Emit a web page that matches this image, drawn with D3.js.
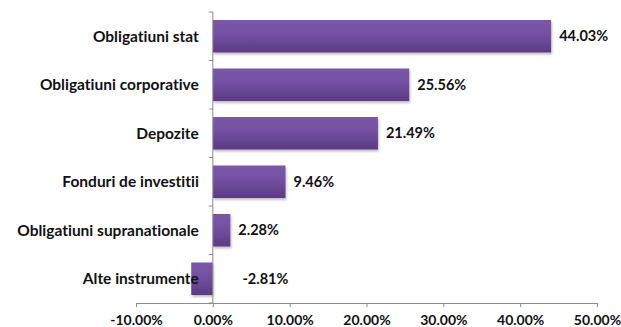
<!DOCTYPE html>
<html>
<head>
<meta charset="utf-8">
<script src="https://d3js.org/d3.v7.min.js"></script>
<style>
  body { margin: 0; background: #fff; }
  svg { display: block; }
  text { font-family: Lato, "Open Sans", sans-serif; font-weight: bold; fill: #111;
         font-variant-ligatures: none; }
</style>
</head>
<body>
<div id="chart"></div>
<script>
// Categories, top to bottom
const categories = [
  "Obligatiuni stat",
  "Obligatiuni corporative",
  "Depozite",
  "Fonduri de investitii",
  "Obligatiuni supranationale",
  "Alte instrumente"
];
// Share in percent
const values = [44.03, 25.56, 21.49, 9.46, 2.28, -2.81];
const xTicks = [-10, 0, 10, 20, 30, 40, 50];

const width = 621, height = 327;
const margin = { top: 12, right: 24, bottom: 24, left: 136 };

const svg = d3.select("#chart").append("svg")
  .attr("width", width)
  .attr("height", height);

// Gradient + umbra pentru bare
const defs = svg.append("defs");
const grad = defs.append("linearGradient")
  .attr("id", "barGrad")
  .attr("x1", 0).attr("y1", 0).attr("x2", 0).attr("y2", 1);
grad.append("stop").attr("offset", "0%").attr("stop-color", "#7b56aa");
grad.append("stop").attr("offset", "45%").attr("stop-color", "#7350a0");
grad.append("stop").attr("offset", "100%").attr("stop-color", "#5a3a84");

const shadow = defs.append("filter").attr("id", "shadow")
  .attr("x", "-10%").attr("y", "-10%").attr("width", "130%").attr("height", "140%");
shadow.append("feDropShadow")
  .attr("dx", 1).attr("dy", 2).attr("stdDeviation", 1.2)
  .attr("flood-color", "#000").attr("flood-opacity", 0.25);

const x = d3.scaleLinear()
  .domain([-10, 50])
  .range([margin.left, width - margin.right]);

const y = d3.scaleBand()
  .domain(categories)
  .range([margin.top, height - margin.bottom])
  .paddingInner(0.33)
  .paddingOuter(0.165);

const fmt = d => d.toFixed(2) + "%";

// Bare
svg.append("g").selectAll("rect")
  .data(values)
  .enter().append("rect")
  .attr("x", d => x(Math.min(0, d)))
  .attr("y", (d, i) => y(categories[i]))
  .attr("width", d => Math.abs(x(d) - x(0)))
  .attr("height", y.bandwidth())
  .attr("fill", "url(#barGrad)")
  .attr("filter", "url(#shadow)");

// Axa X
const xAxis = svg.append("g")
  .attr("transform", `translate(0,${height - margin.bottom})`)
  .call(d3.axisBottom(x).tickValues(xTicks).tickSize(4).tickFormat(fmt));
xAxis.select(".domain").attr("stroke", "#8c8c8c");
xAxis.selectAll(".tick line").attr("stroke", "#8c8c8c").attr("y2", 4);
xAxis.selectAll("text")
  .attr("y", 12)
  .style("font-size", "14px");

// Axa Y (la 0)
const yAxis = svg.append("g")
  .attr("transform", `translate(${x(0)},0)`);
yAxis.append("line")
  .attr("x1", 0).attr("x2", 0)
  .attr("y1", margin.top).attr("y2", height - margin.bottom)
  .attr("stroke", "#8c8c8c");
const step = y.step();
yAxis.selectAll(".ytick")
  .data(d3.range(categories.length + 1))
  .enter().append("line")
  .attr("x1", -4).attr("x2", 0)
  .attr("y1", i => margin.top + i * step)
  .attr("y2", i => margin.top + i * step)
  .attr("stroke", "#8c8c8c");

// Etichete categorii
svg.append("g").selectAll("text")
  .data(categories)
  .enter().append("text")
  .attr("x", x(0) - 14)
  .attr("y", d => y(d) + y.bandwidth() / 2)
  .attr("dy", "0.35em")
  .attr("text-anchor", "end")
  .style("font-size", "15.5px")
  .text(d => d);

// Etichete valori
svg.append("g").selectAll("text")
  .data(values)
  .enter().append("text")
  .attr("x", d => x(Math.abs(d)) + 8)
  .attr("y", (d, i) => y(categories[i]) + y.bandwidth() / 2)
  .attr("dy", "0.35em")
  .style("font-size", "14.5px")
  .text(fmt);
</script>
</body>
</html>
